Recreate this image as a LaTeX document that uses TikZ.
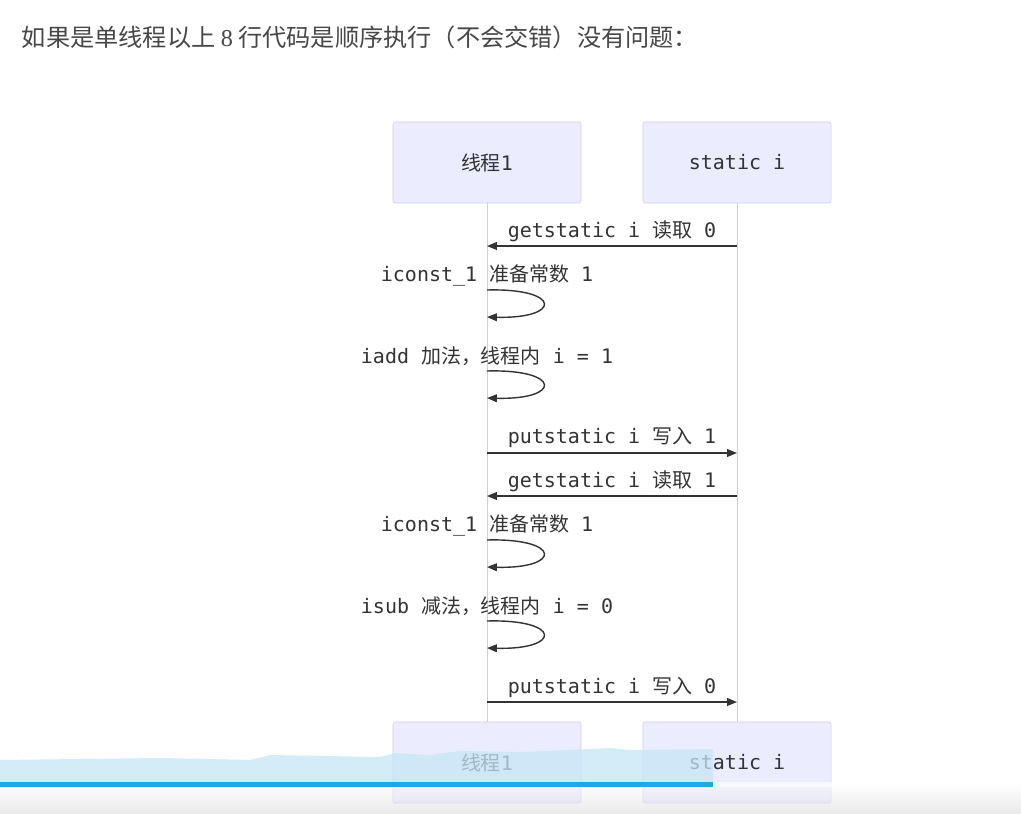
\documentclass[tikz,border=0pt]{standalone}
\usepackage{fontspec}
\usepackage{tikz}
\usepackage{xcolor}
\usetikzlibrary{arrows.meta}
\setmainfont{DejaVu Sans Mono}
\newfontfamily\cjk{Noto Sans CJK SC}
\newcommand{\zh}[1]{{\cjk #1}}
\definecolor{actorfill}{HTML}{ECECFF}
\definecolor{actorline}{HTML}{D3CCF2}
\definecolor{lifeline}{HTML}{D0D0D0}
\definecolor{ink}{HTML}{333333}
\definecolor{bandblue}{HTML}{C6E6F5}
\definecolor{barblue}{HTML}{1EA8E4}

\begin{document}
\begin{tikzpicture}[x=0.025cm,y=-0.025cm,
  every node/.style={font=\fontsize{14.2}{17}\selectfont,text=ink},
  actor/.style={draw=actorline,fill=actorfill,rounded corners=1.5pt,
    minimum width=4.7cm,minimum height=2.025cm,inner sep=0pt},
  msg/.style={draw=ink,line width=1pt,-{Triangle[length=7pt,width=5.5pt]}},
  life/.style={draw=lifeline,line width=0.6pt}]
\useasboundingbox (0,0) rectangle (1021,814);
\fill[white] (0,0) rectangle (1021,814);
% title
\node[anchor=west,font=\cjk\fontsize{17.2}{20}\selectfont,text=ink!90] (title) at (17,37)
  {如果是单线程以上 {\fontspec{Liberation Serif}8} 行代码是顺序执行（不会交错）没有问题：};
% lifelines
\draw[life] (487,203) -- (487,722);
\draw[life] (737,203) -- (737,722);
% participants
\node[actor] (thr) at (487,162.5) {\zh{线程}1};
\node[actor] (stat) at (737,162.5) {static i};
\node[actor] (thrB) at (487,762.5) {\zh{线程}1};
\node[actor] (statB) at (737,762.5) {static i};
% points on the lifelines
\coordinate (s1) at (737,246); \coordinate (t1) at (487,246);
\coordinate (a2) at (487,290); \coordinate (b2) at (487,317);
\coordinate (a3) at (487,371); \coordinate (b3) at (487,398);
\coordinate (t4) at (487,453); \coordinate (s4) at (737,453);
\coordinate (s5) at (737,496); \coordinate (t5) at (487,496);
\coordinate (a6) at (487,540); \coordinate (b6) at (487,567);
\coordinate (a7) at (487,621); \coordinate (b7) at (487,648);
\coordinate (t8) at (487,702); \coordinate (s8) at (737,702);
% messages
\node (m1) at (612,231) {getstatic i \zh{读取} 0};
\draw[msg] (s1) -- (t1);
\node (m2) at (487,275) {iconst\_1 \zh{准备常数} 1};
\draw[msg] (a2) .. controls (562,288) and (562,319) .. (b2);
\node (m3) at (487,356) {iadd \zh{加法，线程内} i = 1};
\draw[msg] (a3) .. controls (562,369) and (562,400) .. (b3);
\node (m4) at (612,437) {putstatic i \zh{写入} 1};
\draw[msg] (t4) -- (s4);
\node (m5) at (612,481) {getstatic i \zh{读取} 1};
\draw[msg] (s5) -- (t5);
\node (m6) at (487,525) {iconst\_1 \zh{准备常数} 1};
\draw[msg] (a6) .. controls (562,538) and (562,569) .. (b6);
\node (m7) at (487,606) {isub \zh{减法，线程内} i = 0};
\draw[msg] (a7) .. controls (562,619) and (562,650) .. (b7);
\node (m8) at (612,687) {putstatic i \zh{写入} 0};
\draw[msg] (t8) -- (s8);
% player overlay at the bottom
\shade[top color=white,bottom color=black!18,opacity=0.45] (0,784) rectangle (1021,814);
\fill[bandblue,opacity=0.75] (0,782) -- (0,760) -- (160,758) -- (250,760) -- (270,755)
  -- (380,757) -- (395,753) -- (430,755) -- (460,751) -- (520,752) -- (590,749)
  -- (610,748) -- (630,750) -- (713,749) -- (713,782) -- cycle;
\fill[barblue] (0,782) rectangle (713,787);
\fill[white,opacity=0.6] (713,782) rectangle (1021,787);
\end{tikzpicture}
\end{document}
